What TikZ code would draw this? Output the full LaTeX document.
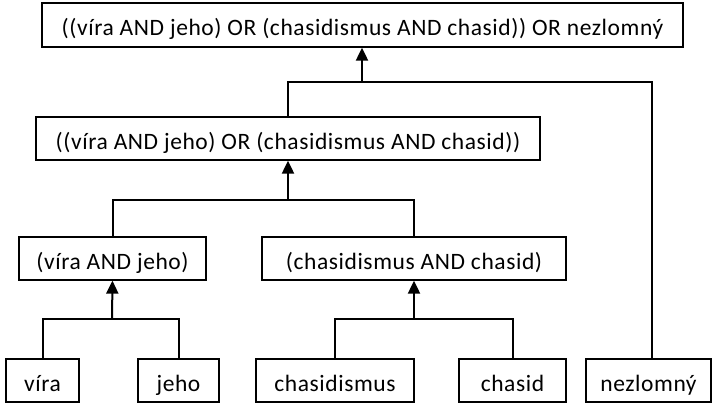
\documentclass[tikz,border=0pt]{standalone}
\usepackage{fontspec}
\setmainfont{Carlito}[LetterSpace=2.5]
\usetikzlibrary{arrows.meta}
\begin{document}
\begin{tikzpicture}[x=1pt,y=-1pt,
  box/.style={draw=black,line width=1.3pt,fill=white,minimum height=43pt,inner sep=0pt,text height=21.6pt,text depth=0pt,font=\fontsize{23.5}{27}\selectfont},
  conn/.style={draw=black,line width=2pt},
  arr/.style={conn,-{Triangle[length=13pt,width=12pt]}}]
\useasboundingbox (0,0) rectangle (712,404);
\node[box,minimum width=641pt,minimum height=44pt] (top) at (362.5,25) {((víra AND jeho) OR (chasidismus AND chasid)) OR nezlomný};
\node[box,minimum width=504pt] (or) at (288,138.5) {((víra AND jeho) OR (chasidismus AND chasid))};
\node[box,minimum width=187pt] (va) at (112.5,258.5) {(víra AND jeho)};
\node[box,minimum width=304pt] (ca) at (414,258.5) {(chasidismus AND chasid)};
\node[box,minimum width=73pt] (vira) at (42.5,380.5) {víra};
\node[box,minimum width=81pt] (jeho) at (178.5,380.5) {jeho};
\node[box,minimum width=158pt] (chm) at (335,380.5) {chasidismus};
\node[box,minimum width=107pt] (chd) at (512.5,380.5) {chasid};
\node[box,minimum width=125pt] (nez) at (648.5,380.5) {nezlomný};
\coordinate (j1) at (112,319);
\coordinate (j2) at (414,319);
\coordinate (j0) at (288,200);
\coordinate (j3) at (362,82);
\coordinate (nzt) at (652,359);
\draw[conn] (vira.north) |- (j1) -| (jeho.north);
\draw[arr] (j1) -- (va.south);
\draw[conn] (chm.north) |- (j2) -| (chd.north);
\draw[arr] (j2) -- (ca.south);
\draw[conn] (va.north) |- (j0) -| (ca.north);
\draw[arr] (j0) -- (or.south);
\draw[conn] (or.north) |- (j3) -| (nzt);
\draw[arr] (j3) -- (j3 |- top.south);
\end{tikzpicture}
\end{document}
